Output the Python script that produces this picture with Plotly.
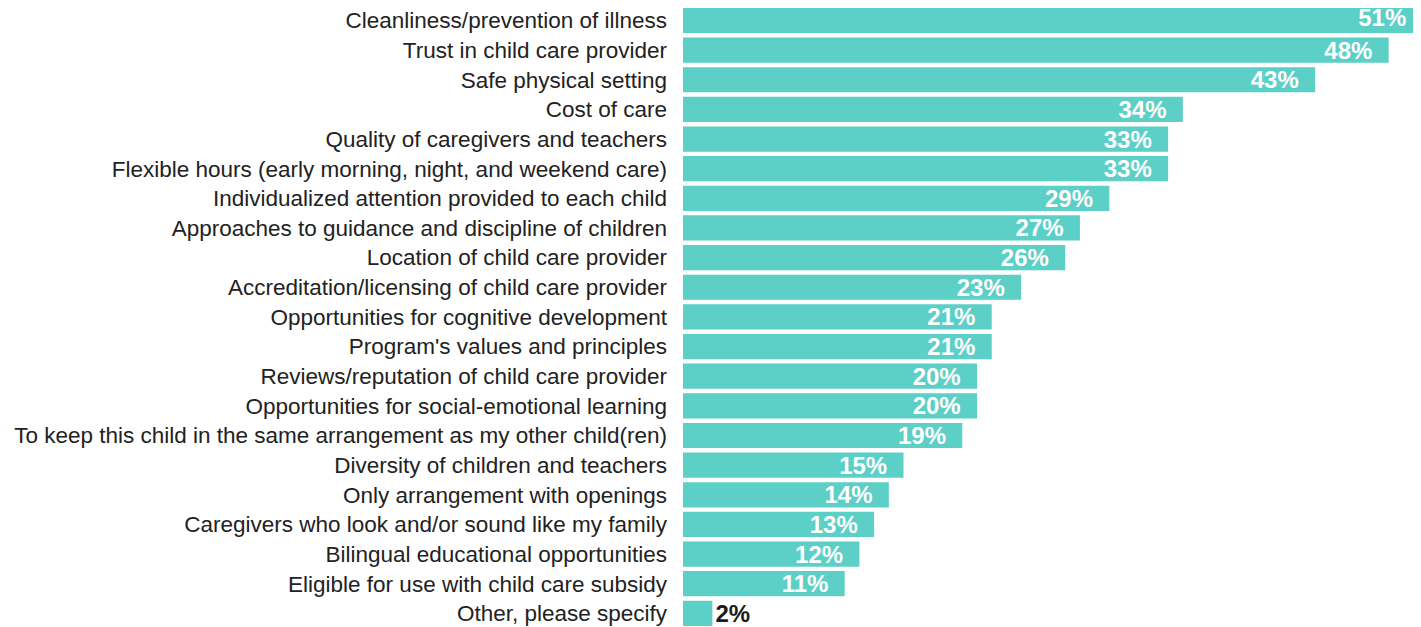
import plotly.graph_objects as go

categories = [
    "Cleanliness/prevention of illness",
    "Trust in child care provider",
    "Safe physical setting",
    "Cost of care",
    "Quality of caregivers and teachers",
    "Flexible hours (early morning, night, and weekend care)",
    "Individualized attention provided to each child",
    "Approaches to guidance and discipline of children",
    "Location of child care provider",
    "Accreditation/licensing of child care provider",
    "Opportunities for cognitive development",
    "Program's values and principles",
    "Reviews/reputation of child care provider",
    "Opportunities for social-emotional learning",
    "To keep this child in the same arrangement as my other child(ren)",
    "Diversity of children and teachers",
    "Only arrangement with openings",
    "Caregivers who look and/or sound like my family",
    "Bilingual educational opportunities",
    "Eligible for use with child care subsidy",
    "Other, please specify",
]
values = [51, 48, 43, 34, 33, 33, 29, 27, 26, 23, 21, 21, 20, 20, 19, 15, 14, 13, 12, 11, 2]

X_MAX = 50.2        # visible extent of the value axis (the longest bar runs past the edge)
LABEL_INSET = 1.0   # inset (axis units) of a label for a bar that runs past the edge

BAR = "#5ccfc6"
FONT = "Liberation Sans, Arial, sans-serif"
labels = []
positions = []
for v in values:
    if v > X_MAX:
        labels.append("")
        positions.append("none")
    elif v >= 5:
        labels.append(f"{v}%\u00a0\u00a0")
        positions.append("inside")
    else:
        labels.append(f"{v}%")
        positions.append("outside")

fig = go.Figure(go.Bar(
    x=values,
    y=categories,
    orientation="h",
    marker=dict(color=BAR, line=dict(width=0)),
    text=labels,
    textposition=positions,
    insidetextanchor="end",
    outsidetextfont=dict(family=FONT, size=24, color="#1a1a1a", weight="bold"),
    insidetextfont=dict(family=FONT, size=24, color="white", weight="bold"),
    constraintext="none",
    cliponaxis=True,
    hoverinfo="x+y",
))

# labels for bars that run past the visible edge: placed at the visible end of the bar
over = [(c, v) for c, v in zip(categories, values) if v > X_MAX]
fig.add_trace(go.Scatter(
    x=[min(v, X_MAX) - LABEL_INSET for _, v in over],
    y=[c for c, _ in over],
    mode="text",
    text=[f"{v}%" for _, v in over],
    textposition="middle left",
    textfont=dict(family=FONT, size=24, color="white", weight="bold"),
    cliponaxis=True,
    hoverinfo="skip",
    showlegend=False,
))

fig.update_layout(
    width=1413,
    height=619,
    margin=dict(l=675, r=0, t=0, b=0, pad=0),
    paper_bgcolor="white",
    plot_bgcolor="white",
    bargap=0.15,
    showlegend=False,
    font=dict(family=FONT, size=22, color="#222222"),
)
fig.update_xaxes(range=[0, X_MAX], visible=False, showgrid=False, zeroline=False)
fig.update_yaxes(
    range=[20.46, -0.42],
    showgrid=False,
    zeroline=False,
    showline=False,
    ticks="",
    ticklabelstandoff=15,
    tickfont=dict(family=FONT, size=22.5, color="#222222"),
    automargin=False,
)

fig.write_html("out.html")
